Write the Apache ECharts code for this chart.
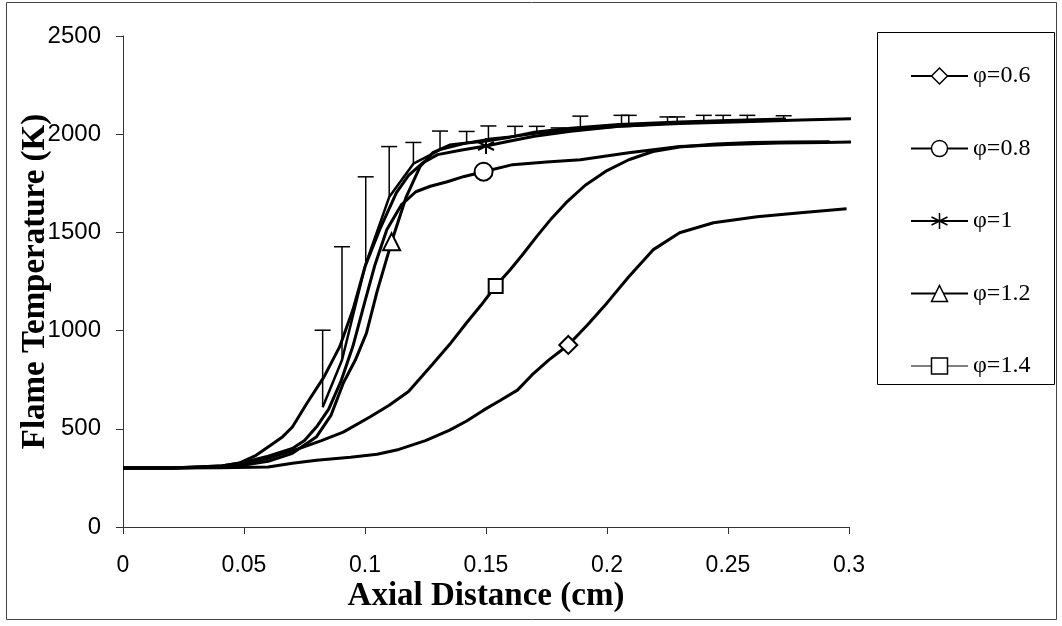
<!DOCTYPE html>
<html><head><meta charset="utf-8">
<script src="https://cdn.jsdelivr.net/npm/echarts@6/dist/echarts.min.js"></script>
<style>html,body{margin:0;padding:0;background:#fff}#c{width:1062px;height:626px}</style>
</head><body><div id="c"></div>
<script>
// ---- data ----
const x06 = [0, 0.02, 0.04, 0.06, 0.07, 0.08, 0.094, 0.105, 0.114, 0.125, 0.135, 0.142, 0.149, 0.156, 0.163, 0.169, 0.176, 0.184, 0.192, 0.200, 0.209, 0.219, 0.230, 0.244, 0.262, 0.280, 0.299];
const t06 = [300, 300, 302, 305, 325, 340, 355, 370, 395, 440, 493, 540, 595, 645, 697, 774, 851, 927, 1030, 1141, 1274, 1411, 1498, 1549, 1580, 1600, 1620];
const x08 = [0, 0.02, 0.04, 0.05, 0.06, 0.07, 0.075, 0.08, 0.085, 0.09, 0.095, 0.1, 0.104, 0.109, 0.115, 0.121, 0.127, 0.134, 0.141, 0.149, 0.161, 0.175, 0.189, 0.209, 0.230, 0.250, 0.271, 0.290, 0.303];
const t08 = [300, 300, 310, 330, 360, 400, 440, 510, 600, 740, 920, 1150, 1330, 1513, 1640, 1707, 1735, 1758, 1785, 1809, 1845, 1858, 1870, 1905, 1937, 1948, 1955, 1958, 1960];
const x10 = [0, 0.02, 0.04, 0.048, 0.055, 0.061, 0.066, 0.070, 0.076, 0.083, 0.0895, 0.095, 0.100, 0.106, 0.113, 0.118, 0.124, 0.130, 0.140, 0.150, 0.160, 0.170, 0.185, 0.205, 0.230, 0.260, 0.280, 0.303];
const t10 = [300, 300, 310, 325, 365, 416, 460, 509, 630, 763, 917, 1106, 1325, 1513, 1702, 1790, 1855, 1896, 1920, 1940, 1965, 1990, 2015, 2040, 2055, 2065, 2072, 2080];
const x12 = [0, 0.02, 0.04, 0.05, 0.06, 0.07, 0.08, 0.086, 0.091, 0.096, 0.1006, 0.105, 0.111, 0.117, 0.1227, 0.128, 0.135, 0.142, 0.150, 0.160, 0.170, 0.185, 0.205, 0.230, 0.250, 0.274];
const t12 = [300, 300, 305, 315, 335, 375, 460, 570, 732, 850, 987, 1200, 1452, 1680, 1834, 1906, 1945, 1955, 1965, 1985, 2010, 2030, 2050, 2062, 2070, 2078];
const x14 = [0, 0.02, 0.04, 0.05, 0.06, 0.073, 0.082, 0.091, 0.102, 0.110, 0.118, 0.128, 0.135, 0.142, 0.148, 0.154, 0.160, 0.165, 0.171, 0.177, 0.183, 0.191, 0.200, 0.209, 0.219, 0.230, 0.245, 0.260, 0.275, 0.292];
const t14 = [300, 300, 305, 320, 350, 400, 440, 483, 560, 620, 690, 830, 930, 1040, 1130, 1227, 1310, 1385, 1480, 1570, 1650, 1740, 1815, 1870, 1912, 1935, 1950, 1958, 1960, 1962];
// measured points with upper error bars
const errX    = [0.0825, 0.0905, 0.1003, 0.110, 0.120, 0.131, 0.142, 0.151, 0.162, 0.171, 0.180, 0.189, 0.206, 0.209, 0.225, 0.229, 0.240, 0.248, 0.258, 0.273];
const errBase = [610, 850, 1340, 1680, 1850, 1920, 1955, 1975, 1990, 2005, 2015, 2025, 2040, 2042, 2055, 2058, 2062, 2066, 2070, 2076];
const errTop  = [1002, 1427, 1783, 1937, 1958, 2016, 2014, 2042, 2040, 2040, 2032, 2092, 2096, 2096, 2088, 2088, 2096, 2096, 2096, 2094];
const names = ['φ=0.6', 'φ=0.8', 'φ=1', 'φ=1.2', 'φ=1.4'];
const markerIdx = [17, 19, 19, 12, 15];
const xTicks = [0, 0.05, 0.1, 0.15, 0.2, 0.25, 0.3];
const yTicks = [0, 500, 1000, 1500, 2000, 2500];

const asterisk = 'path://M5,0L5,10M0.7,2.5L9.3,7.5M9.3,2.5L0.7,7.5';
const symbols = ['diamond', 'circle', asterisk, 'triangle', 'rect'];
const sizes = [18, 18, 16, 17, 14];
const xs = [x06, x08, x10, x12, x14];
const ts = [t06, t08, t10, t12, t14];

const series = [];
names.forEach((n, k) => {
  series.push({
    name: n, type: 'line', clip: false, showSymbol: false,
    symbol: symbols[k], symbolSize: sizes[k],
    itemStyle: {color: '#fff', borderColor: '#000', borderWidth: 1.5},
    lineStyle: {color: '#000', width: 3},
    data: xs[k].map((x, i) => [x, ts[k][i]]),
    z: 3
  });
  const mi = markerIdx[k];
  series.push({
    type: 'scatter', clip: false, symbol: symbols[k], symbolSize: sizes[k],
    itemStyle: {color: '#fff', borderColor: '#000', borderWidth: 2, opacity: 1},
    data: [[xs[k][mi], ts[k][mi]]], z: 5, silent: true
  });
});
series.push({
  type: 'line', clip: false, showSymbol: false,
  lineStyle: {color: '#000', width: 2.5},
  data: errX.map((x, i) => [x, errBase[i]]), z: 3
});
series.push({
  type: 'custom', clip: false,
  data: errX.map((x, i) => [x, errBase[i], errTop[i]]),
  renderItem: function (params, api) {
    const b = api.coord([api.value(0), api.value(1)]);
    const t = api.coord([api.value(0), api.value(2)]);
    const hw = 8;
    return {
      type: 'group', children: [
        {type: 'line', shape: {x1: b[0], y1: b[1], x2: t[0], y2: t[1]}, style: {stroke: '#000', lineWidth: 1.5}},
        {type: 'line', shape: {x1: t[0] - hw, y1: t[1], x2: t[0] + hw, y2: t[1]}, style: {stroke: '#000', lineWidth: 1.5}}
      ]
    };
  }, z: 4
});

const legendData = names.map((n, k) => k === 4 ? {name: n, lineStyle: {width: 1}} : {name: n});

const chart = echarts.init(document.getElementById('c'));
chart.setOption({
  backgroundColor: '#fff',
  animation: false,
  grid: {left: 123, right: 213, top: 36, bottom: 99, outerBoundsMode: 'none', containLabel: false},
  graphic: [
    {type: 'rect', shape: {x: 6.5, y: 2.5, width: 1050, height: 617}, style: {fill: 'none', stroke: '#444', lineWidth: 1}, z: -1},
    {type: 'rect', shape: {x: 877.5, y: 32.5, width: 177, height: 352}, style: {fill: 'none', stroke: '#000', lineWidth: 1}, z: 1}
  ],
  legend: {
    orient: 'vertical', left: 905, top: 59,
    itemWidth: 57, itemHeight: 20, itemGap: 48.5,
    data: legendData,
    itemStyle: {color: '#fff', borderColor: '#000', borderWidth: 1.5},
    lineStyle: {color: '#000', width: 2},
    textStyle: {fontFamily: 'Liberation Serif', fontSize: 24, color: '#000'}
  },
  xAxis: {
    type: 'value', min: 0, max: 0.3, interval: 0.05,
    name: 'Axial Distance (cm)', nameLocation: 'middle', nameGap: 53, nameMoveOverlap: false,
    nameTextStyle: {fontFamily: 'Liberation Serif', fontWeight: 'bold', fontSize: 33, color: '#000'},
    axisLine: {lineStyle: {color: '#333', width: 1}},
    axisTick: {show: true, length: 7, lineStyle: {color: '#333'}},
    axisLabel: {fontFamily: 'Liberation Sans', fontSize: 23, color: '#000', margin: 27,
      formatter: v => String(+v.toFixed(2))},
    splitLine: {show: false}
  },
  yAxis: {
    type: 'value', min: 0, max: 2500, interval: 500,
    name: 'Flame Temperature (K)', nameLocation: 'middle', nameGap: 71, nameMoveOverlap: false,
    nameTextStyle: {fontFamily: 'Liberation Serif', fontWeight: 'bold', fontSize: 33, color: '#000'},
    axisLine: {show: true, lineStyle: {color: '#333', width: 1}},
    axisTick: {show: true, length: 7, lineStyle: {color: '#333'}},
    axisLabel: {fontFamily: 'Liberation Sans', fontSize: 24, color: '#000', margin: 22,
      formatter: v => String(v)},
    splitLine: {show: false}
  },
  series: series
});
</script></body></html>
